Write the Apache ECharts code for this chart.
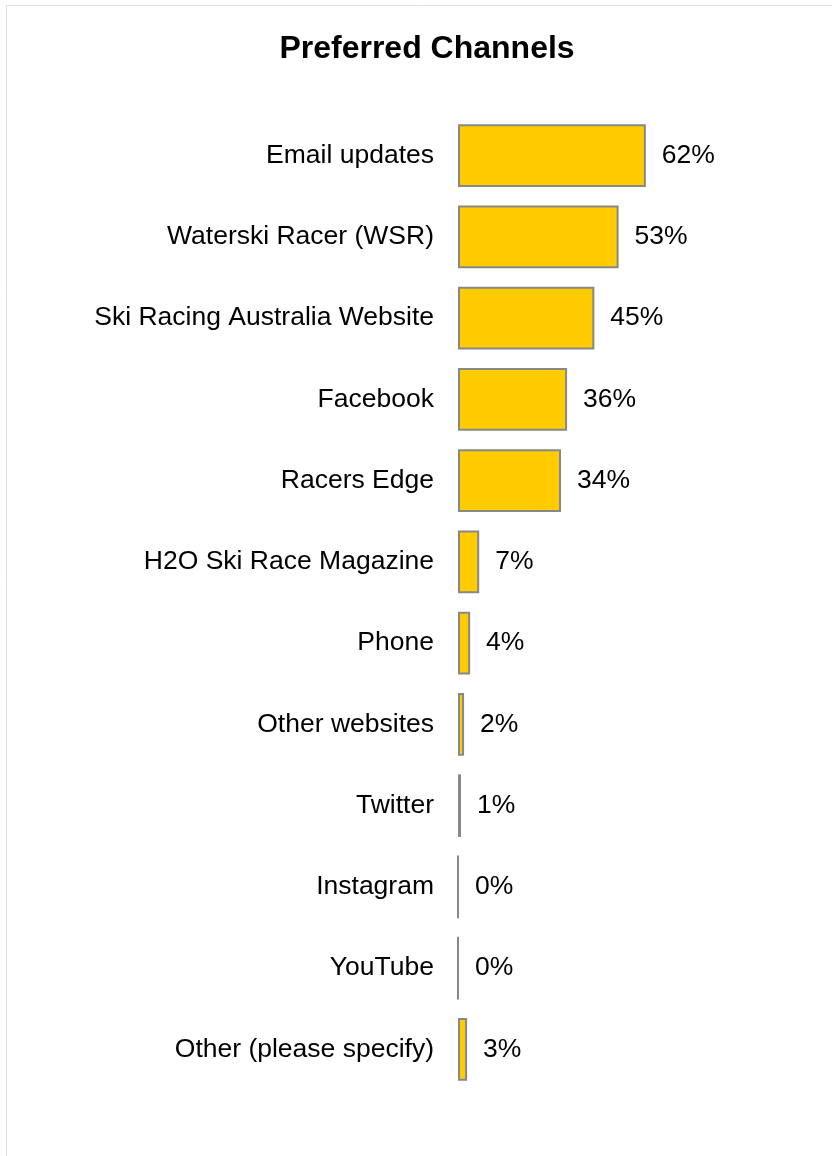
<!DOCTYPE html>
<html>
<head>
<meta charset="utf-8">
<script src="https://cdn.jsdelivr.net/npm/echarts@6/dist/echarts.min.js"></script>
<style>
html,body{margin:0;padding:0;background:#fff;}
#chart{width:832px;height:1156px;}
</style>
</head>
<body>
<div id="chart"></div>
<script>
const titleText = 'Preferred Channels';
const categories = [
  'Email updates',
  'Waterski Racer (WSR)',
  'Ski Racing Australia Website',
  'Facebook',
  'Racers Edge',
  'H2O Ski Race Magazine',
  'Phone',
  'Other websites',
  'Twitter',
  'Instagram',
  'YouTube',
  'Other (please specify)'
];
const values = [62, 53, 45, 36, 34, 7, 4, 2, 1, 0, 0, 3];

const FONT = '"Liberation Sans", Arial, sans-serif';
const chart = echarts.init(document.getElementById('chart'), null, {renderer: 'canvas'});
chart.setOption({
  backgroundColor: '#ffffff',
  animation: false,
  graphic: [{
    type: 'rect',
    shape: {x: 6.5, y: 5.5, width: 1000, height: 1400},
    style: {fill: 'none', stroke: '#e0e0e0', lineWidth: 1},
    silent: true,
    z: -10
  }],
  title: {
    text: titleText,
    left: 422,
    top: 28,
    textAlign: 'center',
    textStyle: {fontFamily: FONT, fontSize: 32, fontWeight: 'bold', color: '#000'}
  },
  grid: {left: 458, right: 71, top: 115, bottom: 66, containLabel: false},
  xAxis: {
    type: 'value',
    min: 0,
    max: 100,
    show: false
  },
  yAxis: {
    type: 'category',
    data: categories,
    inverse: true,
    axisLine: {show: false},
    axisTick: {show: false},
    splitLine: {show: false},
    axisLabel: {
      margin: 24,
      fontFamily: FONT,
      fontSize: 26.5,
      color: '#000'
    }
  },
  series: [{
    type: 'bar',
    data: values,
    barCategoryGap: '23%',
    itemStyle: {color: '#FFCC00', borderColor: '#888888', borderWidth: 2},
    label: {
      show: true,
      position: 'right',
      distance: 16,
      formatter: '{c}%',
      fontFamily: FONT,
      fontSize: 26.5,
      color: '#000'
    }
  }]
});
</script>
</body>
</html>
